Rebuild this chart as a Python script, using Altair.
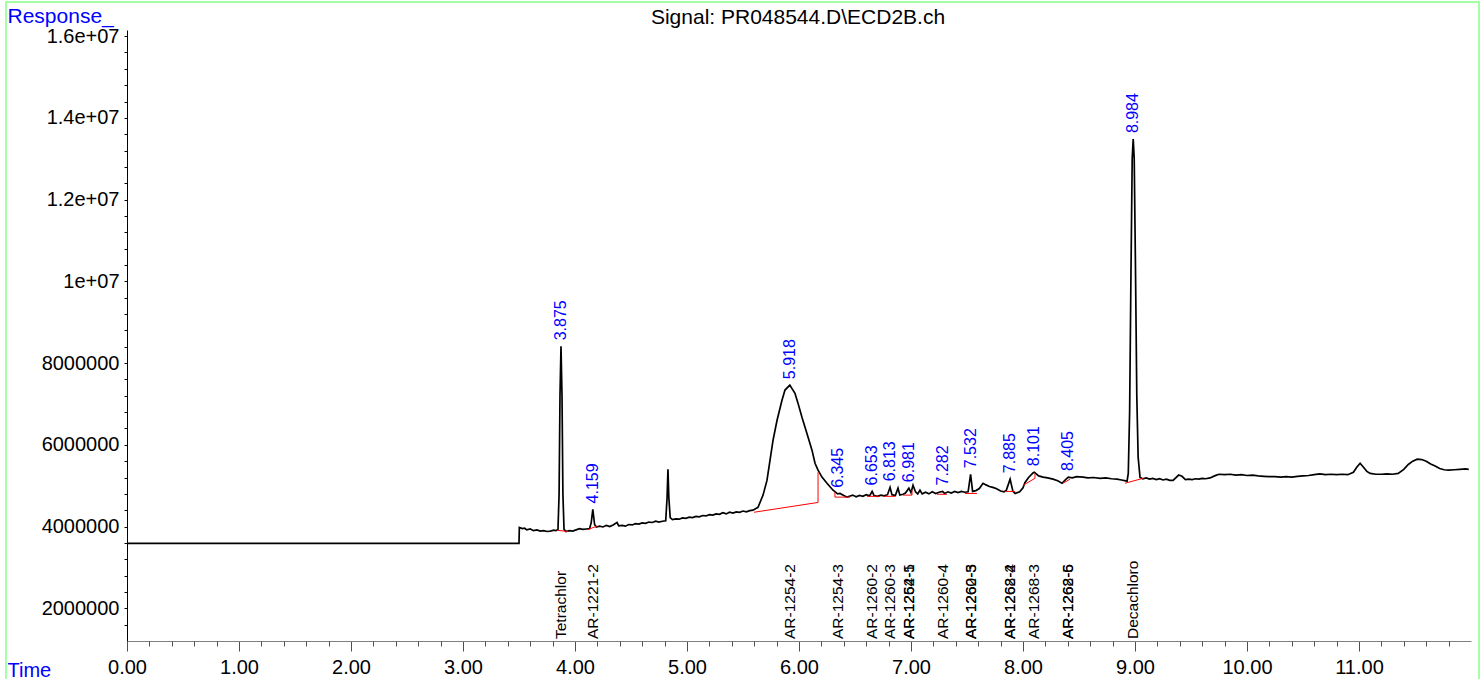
import altair as alt
import pandas as pd

SIGNAL_TITLE = "Signal: PR048544.D\\ECD2B.ch"

# ---- detector trace: retention time (min) and response (millions of counts)
time_min = [
    0.00, 3.50, 3.503, 3.53, 3.55, 3.57, 3.60, 3.63, 3.66, 3.69, 3.72, 3.75, 3.78, 3.81, 3.83,
    3.848, 3.858, 3.866, 3.875, 3.884, 3.892, 3.902,
    3.92, 3.95, 3.98, 4.01, 4.04, 4.07, 4.10, 4.13, 4.145, 4.159, 4.175, 4.19, 4.22, 4.25,
    4.28, 4.31, 4.34, 4.375, 4.39, 4.42, 4.45, 4.48, 4.51, 4.54, 4.57, 4.60, 4.63, 4.66,
    4.69, 4.72, 4.75, 4.78, 4.81, 4.822, 4.830, 4.838, 4.85, 4.87, 4.90, 4.93, 4.96, 4.99,
    5.02, 5.05, 5.08, 5.11, 5.14, 5.17, 5.20, 5.23, 5.26, 5.29, 5.32, 5.35, 5.38, 5.41,
    5.44, 5.47, 5.50, 5.53, 5.56,
    5.589, 5.634, 5.679, 5.714, 5.741, 5.768, 5.804, 5.848, 5.875, 5.918, 5.964, 5.991,
    6.027, 6.071, 6.116, 6.143, 6.170, 6.205, 6.250, 6.304, 6.345, 6.366, 6.40, 6.429,
    6.45, 6.48, 6.51, 6.54, 6.57, 6.60, 6.63, 6.653, 6.67, 6.70, 6.73, 6.76, 6.79, 6.813,
    6.83, 6.86, 6.884, 6.90, 6.93, 6.95, 6.981, 7.00, 7.018, 7.04, 7.06, 7.08, 7.10, 7.13,
    7.16, 7.19, 7.22, 7.25, 7.282, 7.30, 7.33, 7.36, 7.39, 7.42, 7.45, 7.48, 7.51, 7.532,
    7.55, 7.58, 7.61, 7.643, 7.67, 7.70, 7.73, 7.76, 7.80, 7.83, 7.85, 7.885, 7.91, 7.93,
    7.97, 8.00, 8.018, 8.05, 8.089, 8.101, 8.14, 8.179, 8.22, 8.268, 8.31, 8.348, 8.38,
    8.405, 8.44, 8.48, 8.536, 8.58, 8.63, 8.688, 8.74, 8.79, 8.839, 8.88, 8.929,
    8.940, 8.952, 8.964, 8.975, 8.984, 8.993, 9.004, 9.016, 9.028, 9.045,
    9.07, 9.10, 9.13, 9.16, 9.19, 9.22, 9.25, 9.28, 9.31, 9.34, 9.39, 9.42, 9.45, 9.48,
    9.51, 9.54, 9.57, 9.60, 9.63, 9.67, 9.71, 9.75, 9.80, 9.85, 9.90, 9.95, 10.00, 10.05,
    10.10, 10.15, 10.20, 10.25, 10.30, 10.35, 10.40, 10.45, 10.50, 10.55, 10.60, 10.65,
    10.70, 10.75, 10.80, 10.85, 10.90, 10.95, 10.98, 11.01, 11.04, 11.07, 11.10, 11.15,
    11.20, 11.25, 11.30, 11.35, 11.40, 11.44, 11.48, 11.52, 11.56, 11.60, 11.64, 11.68,
    11.72, 11.76, 11.80, 11.85, 11.90, 11.95, 11.98,
]
response_mcounts = [
    3.59, 3.59, 3.98, 3.95, 3.96, 3.92, 3.94, 3.90, 3.92, 3.89, 3.90, 3.88, 3.89, 3.91, 3.90,
    3.93, 4.80, 7.20, 8.41, 7.20, 4.80, 3.93,
    3.88, 3.90, 3.89, 3.92, 3.95, 3.93, 3.94, 3.95, 4.10, 4.42, 4.05, 3.99, 4.01, 3.99,
    4.03, 4.00, 4.04, 4.10, 4.02, 4.03, 4.01, 4.05, 4.04, 4.07, 4.06, 4.09, 4.08, 4.11,
    4.10, 4.13, 4.11, 4.13, 4.14, 4.70, 5.40, 4.70, 4.22, 4.17, 4.19, 4.18, 4.21, 4.20,
    4.23, 4.22, 4.25, 4.24, 4.27, 4.26, 4.29, 4.28, 4.31, 4.30, 4.34, 4.31, 4.35, 4.33,
    4.36, 4.35, 4.38, 4.36, 4.39,
    4.40, 4.47, 4.77, 5.13, 5.62, 6.11, 6.60, 7.09, 7.34, 7.46, 7.26, 7.02,
    6.67, 6.28, 5.87, 5.55, 5.38, 5.21, 5.06, 4.89, 4.80, 4.81, 4.76, 4.72,
    4.74, 4.77, 4.73, 4.76, 4.74, 4.78, 4.75, 4.86, 4.76, 4.74, 4.77, 4.75, 4.78, 4.96,
    4.78, 4.76, 4.94, 4.77, 4.79, 4.82, 4.94, 4.83, 5.01, 4.85, 4.80, 4.89, 4.80, 4.84,
    4.80, 4.85, 4.81, 4.84, 4.86, 4.81, 4.85, 4.82, 4.86, 4.83, 4.86, 4.84, 4.85, 5.28,
    4.86, 4.88, 4.93, 5.06, 5.02, 4.98, 4.96, 4.93, 4.87, 4.85, 4.88, 5.16, 4.86, 4.81,
    4.85, 4.95, 5.08, 5.20, 5.31, 5.33, 5.24, 5.21, 5.19, 5.16, 5.12, 5.06, 5.15,
    5.21, 5.19, 5.22, 5.21, 5.19, 5.20, 5.18, 5.19, 5.17, 5.16, 5.14, 5.11,
    5.30, 6.80, 10.20, 13.00, 13.48, 13.00, 10.40, 7.20, 5.70, 5.20,
    5.17, 5.19, 5.16, 5.18, 5.15, 5.17, 5.14, 5.16, 5.13, 5.13, 5.26, 5.23, 5.15, 5.16,
    5.15, 5.17, 5.16, 5.18, 5.17, 5.19, 5.24, 5.28, 5.27, 5.28, 5.26, 5.27, 5.25, 5.26,
    5.24, 5.23, 5.22, 5.22, 5.21, 5.22, 5.21, 5.23, 5.24, 5.25, 5.27, 5.29,
    5.27, 5.28, 5.27, 5.28, 5.27, 5.33, 5.45, 5.55, 5.45, 5.35, 5.30, 5.28,
    5.28, 5.29, 5.28, 5.30, 5.40, 5.52, 5.60, 5.65, 5.64, 5.60, 5.53, 5.48,
    5.42, 5.39, 5.38, 5.39, 5.40, 5.41, 5.40,
]

# ---- integrated peaks: retention time (min) and apex response (millions)
peak_rt = [3.875, 4.159, 5.918, 6.345, 6.653, 6.813, 6.981, 7.282, 7.532, 7.885, 8.101, 8.405, 8.984]
peak_apex_mcounts = [8.41, 4.42, 7.46, 4.80, 4.86, 4.96, 4.94, 4.86, 5.28, 5.16, 5.33, 5.21, 13.48]

# ---- compound identifications at expected retention times
compound_names = [
    "Tetrachlor", "AR-1221-2", "AR-1254-2", "AR-1254-3", "AR-1260-2", "AR-1260-3",
    "AR-1262-1", "AR-1254-5", "AR-1260-4", "AR-1260-5", "AR-1262-3",
    "AR-1262-4", "AR-1268-2", "AR-1268-3", "AR-1268-5", "AR-1262-6", "Decachloro",
]
compound_rt = [
    3.875, 4.159, 5.918, 6.345, 6.653, 6.813,
    6.981, 6.981, 7.282, 7.532, 7.532,
    7.885, 7.885, 8.101, 8.405, 8.405, 8.984,
]

# ---- integration baselines (start/end time, start/end response in millions)
base_t1 = [3.839, 4.116, 5.598, 6.170, 6.321, 6.321, 6.607, 6.750, 6.929, 7.009, 7.232, 7.482, 7.839, 8.000, 8.107, 8.357, 8.911]
base_r1 = [3.91, 3.93, 4.35, 4.59, 4.84, 4.72, 4.74, 4.74, 4.77, 4.77, 4.79, 4.81, 4.86, 5.01, 5.18, 5.06, 5.06]
base_t2 = [3.938, 4.196, 6.170, 6.170, 6.321, 6.455, 6.723, 6.857, 7.009, 7.009, 7.321, 7.589, 7.929, 8.107, 8.107, 8.420, 9.071]
base_r2 = [3.88, 4.01, 4.59, 5.33, 4.72, 4.72, 4.74, 4.74, 4.77, 4.89, 4.79, 4.81, 4.86, 5.18, 5.30, 5.16, 5.18]

MEGA = 1_000_000
X_MIN, X_MAX = 0, 12
Y_MIN, Y_MAX = 1_200_000, 16_150_000
W, H = 1344, 611
FONT = "Liberation Sans"

trace = pd.DataFrame({"t": time_min, "r": [v * MEGA for v in response_mcounts]})
peaks = pd.DataFrame({
    "t": peak_rt,
    "r": [v * MEGA for v in peak_apex_mcounts],
    "label": [f"{v:.3f}" for v in peak_rt],
})
compounds = pd.DataFrame({"t": compound_rt, "name": compound_names})
baselines = pd.DataFrame({
    "t1": base_t1, "t2": base_t2,
    "r1": [v * MEGA for v in base_r1], "r2": [v * MEGA for v in base_r2],
})

x_scale = alt.Scale(domain=[X_MIN, X_MAX], nice=False, zero=False)
y_scale = alt.Scale(domain=[Y_MIN, Y_MAX], nice=False, zero=False)

x_major = alt.Axis(
    orient="bottom", values=list(range(0, 12)), format=".2f", grid=False,
    domain=True, tickSize=10, tickColor="#505050", domainColor="#808080",
    labelFontSize=20, labelColor="black", labelPadding=22, labelBaseline="alphabetic",
    labelFont=FONT, labelFlush=False, labelOverlap=False,
    title="Time", titleFont=FONT, titleFontSize=20, titleFontWeight="normal", titleColor="#0000ff",
    titleAngle=0, titleAlign="left", titleBaseline="alphabetic", titleX=-120, titleY=35,
)
x_minor = alt.Axis(
    orient="bottom", values=[round(i * 0.2, 1) for i in range(60) if i % 5],
    grid=False, labels=False, domain=False, tickSize=5, tickColor="#505050", title=None,
)
y_axis = alt.Axis(
    orient="left", values=list(range(1_600_000, 16_000_001, 400_000)), grid=False,
    domain=True, tickSize=3, tickColor="black", domainColor="black",
    labelExpr=(
        "datum.value % 2000000 != 0 ? '' : "
        "(datum.value >= 10000000 ? format(datum.value / 10000000, '~g') + 'e+07' "
        ": format(datum.value, 'd'))"
    ),
    labelFontSize=20, labelColor="black", labelPadding=5, labelFont=FONT,
    labelOverlap=False, labelFlush=False,
    title="Response_", titleFont=FONT, titleFontSize=21, titleFontWeight="normal", titleColor="#0000ff",
    titleAngle=0, titleAlign="left", titleBaseline="alphabetic", titleX=-120, titleY=-8,
)

line = alt.Chart(trace).mark_line(color="black", strokeWidth=1.7).encode(
    x=alt.X("t:Q", scale=x_scale, axis=x_major),
    y=alt.Y("r:Q", scale=y_scale, axis=y_axis),
)

base_rules = alt.Chart(baselines).mark_rule(color="#ff0000", strokeWidth=1).encode(
    x=alt.X("t1:Q", scale=x_scale, axis=x_minor),
    x2="t2:Q",
    y=alt.Y("r1:Q", scale=y_scale, axis=y_axis),
    y2="r2:Q",
)

peak_labels = alt.Chart(peaks).mark_text(
    angle=270, align="left", baseline="middle", dx=6,
    color="#0000ff", fontSize=16, font=FONT,
).encode(
    x=alt.X("t:Q", scale=x_scale, axis=None),
    y=alt.Y("r:Q", scale=y_scale, axis=y_axis),
    text="label:N",
)

compound_labels = alt.Chart(compounds).mark_text(
    angle=270, align="left", baseline="middle", dx=2,
    color="black", fontSize=15.5, font=FONT,
).encode(
    x=alt.X("t:Q", scale=x_scale, axis=None),
    y=alt.YDatum(Y_MIN, scale=y_scale, axis=y_axis),
    text="name:N",
)

# signal name centred over the plot, just above its top edge
heading = alt.Chart(pd.DataFrame({"title": [SIGNAL_TITLE]})).mark_text(
    align="center", baseline="alphabetic", fontSize=21, font=FONT, color="black",
).encode(
    x=alt.value(W / 2 - 1), y=alt.value(-6), text="title:N",
)

# light green page frame
frame = alt.Chart(pd.DataFrame({"k": [0]})).mark_rect(
    fillOpacity=0, stroke="#88ff88", strokeWidth=1.5,
).encode(
    x=alt.value(-121), x2=alt.value(W + 8),
    y=alt.value(-28), y2=alt.value(H + 80),
)

chart = (
    alt.layer(line, base_rules, peak_labels, compound_labels, heading, frame)
    .resolve_axis(x="independent")
    .properties(
        width=W, height=H,
        autosize=alt.AutoSizeParams(type="none"),
        padding={"left": 127, "top": 30, "right": 11, "bottom": 38},
        background="white",
        view=alt.ViewBackground(strokeOpacity=0, strokeWidth=0),
    )
    .configure_view(strokeOpacity=0, strokeWidth=0)
    .configure_axis(grid=False, domain=False)
    .configure(font=FONT)
)

chart.save("out.html", embed_options={"renderer": "svg", "actions": False})
